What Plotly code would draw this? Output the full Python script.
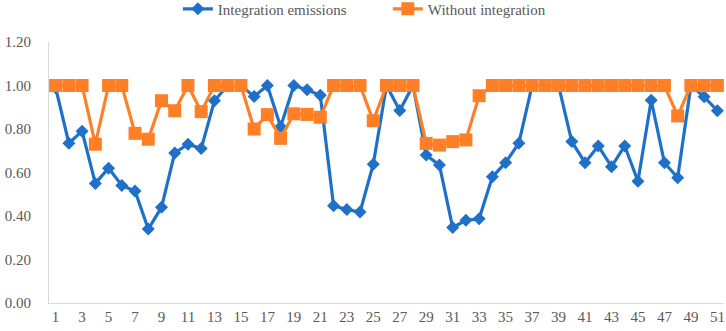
import plotly.graph_objects as go

periods = list(range(1, 52))
integration = [0.99, 0.735, 0.79, 0.55, 0.62, 0.54, 0.515, 0.34, 0.44, 0.69,
               0.73, 0.71, 0.93, 1.00, 1.00, 0.95, 1.00, 0.81, 1.00, 0.98,
               0.955, 0.447, 0.43, 0.418, 0.638, 1.00, 0.885, 1.00, 0.68, 0.634,
               0.347, 0.38, 0.387, 0.58, 0.645, 0.735, 1.00, 1.00, 1.00, 0.742,
               0.645, 0.722, 0.627, 0.722, 0.56, 0.932, 0.645, 0.576, 1.00, 0.948,
               0.884]
without = [1.00, 1.00, 1.00, 0.73, 1.00, 1.00, 0.78, 0.753, 0.93, 0.884,
           1.00, 0.88, 1.00, 1.00, 1.00, 0.80, 0.866, 0.757, 0.87, 0.867,
           0.854, 1.00, 1.00, 1.00, 0.838, 1.00, 1.00, 1.00, 0.734, 0.726,
           0.742, 0.75, 0.953, 1.00, 1.00, 1.00, 1.00, 1.00, 1.00, 1.00,
           1.00, 1.00, 1.00, 1.00, 1.00, 1.00, 1.00, 0.86, 1.00, 1.00,
           1.00]
y_ticks = [0.0, 0.2, 0.4, 0.6, 0.8, 1.0, 1.2]
x_ticks = list(range(1, 52, 2))

BLUE = "#1F70C8"
ORANGE = "#FF7F27"
FONT = "'Liberation Serif', 'Times New Roman', serif"

fig = go.Figure()
fig.add_trace(go.Scatter(
    x=periods, y=integration, name="Integration emissions",
    mode="lines+markers",
    line=dict(color=BLUE, width=3.2),
    marker=dict(symbol="diamond", size=10, color=BLUE),
))
fig.add_trace(go.Scatter(
    x=periods, y=without, name="Without integration",
    mode="lines+markers",
    line=dict(color=ORANGE, width=3.2),
    marker=dict(symbol="square", size=13, color=ORANGE),
))

fig.update_layout(
    width=726, height=331,
    margin=dict(l=49, r=2, t=42, b=28, autoexpand=False),
    paper_bgcolor="white", plot_bgcolor="white",
    font=dict(family=FONT, size=15, color="#595959"),
    showlegend=True,
    legend=dict(orientation="h", x=0.502, xanchor="center", y=1.126, yanchor="middle",
                font=dict(family=FONT, size=15, color="#595959"),
                entrywidth=165, entrywidthmode="pixels",
                bgcolor="rgba(0,0,0,0)", itemwidth=30, tracegroupgap=0),
    xaxis=dict(range=[0.5, 51.5], tickmode="array", tickvals=x_ticks,
               ticktext=[str(v) for v in x_ticks], showgrid=False, zeroline=False,
               showline=True, linecolor="#D9D9D9", linewidth=1, ticks="",
               tickfont=dict(family=FONT, size=15, color="#595959")),
    yaxis=dict(range=[0, 1.2], tickmode="array", tickvals=y_ticks,
               ticktext=[f"{v:.2f}" for v in y_ticks], showgrid=False, zeroline=False,
               showline=True, linecolor="#D9D9D9", linewidth=1, ticks="",
               ticklabelstandoff=14,
               tickfont=dict(family=FONT, size=15, color="#595959")),
)

fig.write_html("out.html",
               config={"displayModeBar": False},
               post_script="document.body.style.margin='0';document.body.style.overflow='hidden';")
